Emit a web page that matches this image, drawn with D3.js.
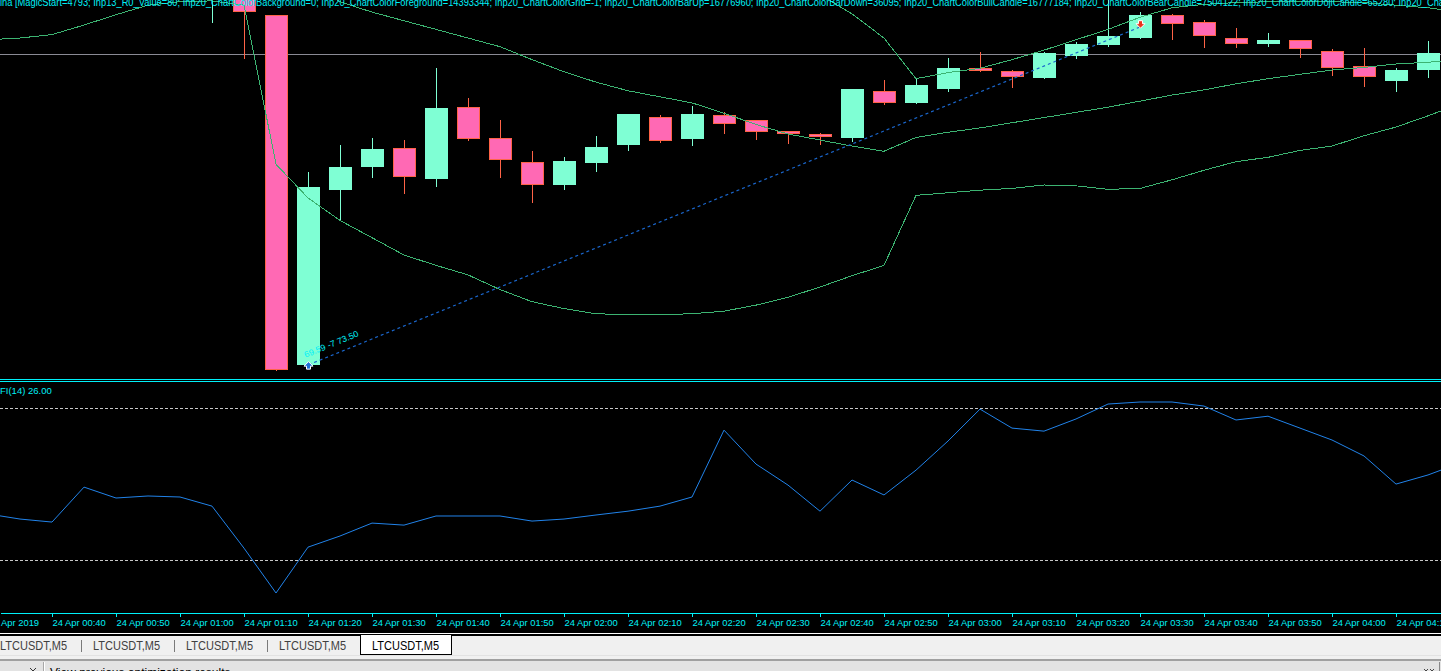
<!DOCTYPE html>
<html><head><meta charset="utf-8">
<script src="https://cdn.jsdelivr.net/npm/d3@7"></script>
<style>html,body{margin:0;padding:0;background:#000;overflow:hidden}</style>
</head><body><svg id="c" width="1441" height="671"></svg>
<script>
// ---------------- DATA ----------------
const candleTimes = ["01:05","01:10","01:15","01:20","01:25","01:30","01:35","01:40","01:45","01:50","01:55","02:00","02:05","02:10","02:15","02:20","02:25","02:30","02:35","02:40","02:45","02:50","02:55","03:00","03:05","03:10","03:15","03:20","03:25","03:30","03:35","03:40","03:45","03:50","03:55","04:00","04:05","04:10","04:15"];
const openPrices  = [73.86,73.90,73.64,69.59,71.61,71.88,72.10,71.74,72.57,72.21,71.94,71.67,71.92,72.13,72.46,72.20,72.48,72.42,72.29,72.26,72.21,72.76,72.62,72.78,73.02,72.99,72.91,73.16,73.29,73.37,73.64,73.56,73.37,73.30,73.35,73.22,73.05,72.87,73.00];
const highPrices  = [74.39,73.98,73.64,71.82,72.13,72.21,72.19,73.02,72.68,72.42,72.06,71.99,72.24,72.49,72.48,72.58,72.51,72.42,72.29,72.27,72.78,72.88,72.90,73.14,73.21,73.00,73.21,73.32,73.88,73.67,73.65,73.58,73.49,73.43,73.35,73.24,73.25,73.02,73.34];
const lowPrices   = [73.56,73.14,69.53,69.59,71.26,71.76,71.58,71.66,72.19,71.76,71.47,71.62,71.83,72.07,72.17,72.13,72.27,72.20,72.15,72.14,72.18,72.61,72.62,72.76,72.99,72.80,72.91,73.14,73.28,73.37,73.36,73.27,73.27,73.28,73.15,72.94,72.82,72.76,72.92];
const closePrices = [74.27,73.67,69.53,71.65,71.88,72.09,71.76,72.56,72.20,71.96,71.67,71.95,72.11,72.49,72.18,72.49,72.38,72.28,72.26,72.22,72.78,72.62,72.83,73.02,72.99,72.92,73.20,73.30,73.39,73.64,73.53,73.39,73.30,73.35,73.24,73.02,72.92,73.00,73.20];

const seriesTimes = ["00:30","00:35","00:40","00:45","00:50","00:55","01:00","01:05","01:10","01:15","01:20","01:25","01:30","01:35","01:40","01:45","01:50","01:55","02:00","02:05","02:10","02:15","02:20","02:25","02:30","02:35","02:40","02:45","02:50","02:55","03:00","03:05","03:10","03:15","03:20","03:25","03:30","03:35","03:40","03:45","03:50","03:55","04:00","04:05","04:10","04:15","04:20"];
const upperBand  = [75.90,75.88,75.86,75.84,75.82,75.80,75.78,75.76,75.74,77.20,76.95,76.72,76.50,76.30,76.10,75.90,75.70,75.50,75.30,75.10,74.95,74.80,74.65,74.52,74.40,74.16,73.87,73.65,73.37,72.90,72.97,73.02,73.12,73.23,73.35,73.47,73.61,73.72,73.76,73.78,73.79,73.79,73.79,73.78,73.75,73.72,73.67];
const middleBand = [75.30,75.28,75.26,75.24,75.22,75.20,75.15,75.05,74.90,74.55,73.98,73.79,73.67,73.57,73.47,73.37,73.27,73.12,72.98,72.86,72.76,72.69,72.62,72.50,72.37,72.26,72.19,72.12,72.06,72.22,72.28,72.33,72.39,72.45,72.51,72.57,72.64,72.71,72.77,72.84,72.90,72.95,73.00,73.03,73.07,73.09,73.12];
const lowerBand  = [73.35,73.37,73.41,73.52,73.64,73.75,73.79,73.80,73.75,71.91,71.52,71.26,71.06,70.86,70.74,70.63,70.46,70.32,70.24,70.18,70.17,70.17,70.18,70.21,70.28,70.37,70.49,70.62,70.74,71.55,71.58,71.61,71.63,71.67,71.66,71.62,71.63,71.73,71.84,71.94,71.99,72.07,72.12,72.24,72.34,72.47,72.61];
const fiValues   = [38.2,36.2,35.0,48.8,44.5,45.3,44.9,41.3,24.7,7.0,25.1,29.5,34.6,33.8,37.4,37.4,37.4,35.4,36.2,37.8,39.3,41.3,44.9,71.3,57.9,49.6,39.3,51.6,45.7,55.5,67.0,79.6,72.1,70.9,75.7,81.6,82.4,82.4,80.8,75.3,76.8,72.1,67.4,61.1,50.0,53.6,58.3];
const fiLevels   = [80, 20];

const axisTicks  = ["00:30","00:40","00:50","01:00","01:10","01:20","01:30","01:40","01:50","02:00","02:10","02:20","02:30","02:40","02:50","03:00","03:10","03:20","03:30","03:40","03:50","04:00","04:10"];
const axisLabels = ["24 Apr 2019","24 Apr 00:40","24 Apr 00:50","24 Apr 01:00","24 Apr 01:10","24 Apr 01:20","24 Apr 01:30","24 Apr 01:40","24 Apr 01:50","24 Apr 02:00","24 Apr 02:10","24 Apr 02:20","24 Apr 02:30","24 Apr 02:40","24 Apr 02:50","24 Apr 03:00","24 Apr 03:10","24 Apr 03:20","24 Apr 03:30","24 Apr 03:40","24 Apr 03:50","24 Apr 04:00","24 Apr 04:10"];

const trendTimes  = ["01:20","03:30"];
const trendPrices = [69.59, 73.50];
const trendLabel  = "69.59 -7 73.50";
const arrowTimes  = ["01:20","03:30"];
const arrowPrices = [69.58, 73.53];
const arrowKinds  = ["buy","sell"];
const hLinePrice  = 73.19;

const headerText = "ina [MagicStart=4793; Inp13_R0_Value=80; Inp20_ChartColorBackground=0; Inp20_ChartColorForeground=14393344; Inp20_ChartColorGrid=-1; Inp20_ChartColorBarUp=16776960; Inp20_ChartColorBarDown=36095; Inp20_ChartColorBullCandle=16777184; Inp20_ChartColorBearCandle=7504122; Inp20_ChartColorDojiCandle=65280; Inp20_Cha";
const fiLabel = "FI(14) 26.00";
const tabLabels = ["LTCUSDT,M5","LTCUSDT,M5","LTCUSDT,M5","LTCUSDT,M5","LTCUSDT,M5"];
const activeTab = 4;
const statusText = "View previous optimization results";

// ---------------- STYLE ----------------
const CYAN = "#00f0f8", BULL = "#7fffd4", BEAR = "#ff69b4", BEAR_EDGE = "#ff6347",
      BAND = "#3cb371", FI_COL = "#2183ea", TREND = "#1a66cc", FONT = "Liberation Sans, Arial, sans-serif";
const W = 1441, H = 671;

const T = s => { const [h,m] = s.split(":").map(Number); return new Date(2019,3,24,h,m); };

const svg = d3.select("#c");
const x = d3.scaleTime()
  .domain([new Date(2019,3,24,0,31,52,500), new Date(2019,3,24,4,17,1,875)])
  .range([0, W]);
const y = d3.scaleLinear().domain([69.437, 73.81]).range([378, 0]);
const yFi = d3.scaleLinear().domain([-0.5, 90.3]).range([612, 382]);

svg.append("rect").attr("width", W).attr("height", 633).attr("fill", "#000");

const defs = svg.append("defs");
defs.append("clipPath").attr("id","clipMain").append("rect").attr("x",0).attr("y",0).attr("width",W).attr("height",379);
defs.append("clipPath").attr("id","clipFi").append("rect").attr("x",0).attr("y",382).attr("width",W).attr("height",231);

// ---------------- MAIN PANEL ----------------
const gm = svg.append("g").attr("clip-path","url(#clipMain)");

gm.append("line").attr("x1",0).attr("x2",W)
  .attr("y1", Math.round(y(hLinePrice))+0.5).attr("y2", Math.round(y(hLinePrice))+0.5)
  .attr("stroke","#8a8a94").attr("stroke-width",1).attr("shape-rendering","crispEdges");

const candles = candleTimes.map((t,i)=>({t:T(t), o:openPrices[i], h:highPrices[i], l:lowPrices[i], c:closePrices[i]}));
const cg = gm.append("g").attr("shape-rendering","crispEdges");
candles.forEach(d=>{
  const cx = Math.round(x(d.t));
  const bull = d.c >= d.o;
  const top = Math.round(y(Math.max(d.o,d.c))), bot = Math.round(y(Math.min(d.o,d.c)));
  const h = Math.max(1, bot-top);
  cg.append("line").attr("x1",cx+0.5).attr("x2",cx+0.5)
    .attr("y1",Math.round(y(d.h))).attr("y2",Math.round(y(d.l))+1)
    .attr("stroke", bull ? BULL : BEAR_EDGE).attr("stroke-width",1);
  if (bull) {
    cg.append("rect").attr("x",cx-11).attr("y",top).attr("width",23).attr("height",h).attr("fill",BULL);
  } else {
    cg.append("rect").attr("x",cx-10.5).attr("y",top+0.5).attr("width",22).attr("height",Math.max(0,h-1))
      .attr("fill",BEAR).attr("stroke",BEAR_EDGE).attr("stroke-width",1);
  }
});

const bandLine = d3.line().x((d,i)=>x(T(seriesTimes[i]))).y(d=>y(d));
[upperBand, middleBand, lowerBand].forEach(arr=>{
  gm.append("path").datum(arr).attr("d", bandLine).attr("fill","none")
    .attr("stroke",BAND).attr("stroke-width",1).attr("shape-rendering","crispEdges");
});

// trend line
const tp = trendTimes.map((t,i)=>[x(T(t))+0.5, y(trendPrices[i])]);
gm.append("line").attr("x1",tp[0][0]).attr("y1",tp[0][1]).attr("x2",tp[1][0]).attr("y2",tp[1][1])
  .attr("stroke",TREND).attr("stroke-width",1.2).attr("stroke-dasharray","3,3");
const ang = Math.atan2(tp[1][1]-tp[0][1], tp[1][0]-tp[0][0]) * 180/Math.PI;
gm.append("text").attr("transform",`translate(${tp[0][0]-3},${tp[0][1]-7}) rotate(${ang})`)
  .attr("fill",CYAN).attr("font-family",FONT).attr("font-size",8.5)
  .attr("textLength",58).attr("lengthAdjust","spacingAndGlyphs").text(trendLabel);

// arrows
arrowTimes.forEach((t,i)=>{
  const ax = Math.round(x(T(t)))+0.5, ay = y(arrowPrices[i]);
  const s = arrowKinds[i]==="buy" ? 1 : -1;
  const pts = [[0,-4],[4.5,0.5],[2,0.5],[2,3.5],[-2,3.5],[-2,0.5],[-4.5,0.5]].map(p=>[ax+p[0], ay+s*p[1]]);
  gm.append("path").attr("d","M"+pts.map(p=>p.join(",")).join("L")+"Z")
    .attr("fill", arrowKinds[i]==="buy" ? "#1b6fd6" : "#e8341c").attr("stroke","#fff").attr("stroke-width",1);
});

// header text (cut at the top edge, as in the reference)
svg.append("text").attr("x",0).attr("y",6).attr("fill",CYAN).attr("font-family",FONT).attr("font-size",10.5)
  .attr("textLength",1444).attr("lengthAdjust","spacingAndGlyphs").text(headerText);

// separators
svg.append("line").attr("x1",0).attr("x2",W).attr("y1",379.5).attr("y2",379.5).attr("stroke",CYAN);
svg.append("line").attr("x1",0).attr("x2",W).attr("y1",381.5).attr("y2",381.5).attr("stroke",CYAN);

// ---------------- INDICATOR PANEL ----------------
const gf = svg.append("g").attr("clip-path","url(#clipFi)");
fiLevels.forEach(v=>{
  const yy = Math.round(yFi(v))+0.5;
  gf.append("line").attr("x1",0).attr("x2",W).attr("y1",yy).attr("y2",yy)
    .attr("stroke","#c8c8c8").attr("stroke-dasharray","3,2").attr("shape-rendering","crispEdges");
});
gf.append("path").datum(fiValues)
  .attr("d", d3.line().x((d,i)=>x(T(seriesTimes[i]))).y(d=>yFi(d)))
  .attr("fill","none").attr("stroke",FI_COL).attr("stroke-width",1);
svg.append("text").attr("x",0).attr("y",394).attr("fill",CYAN).attr("font-family",FONT).attr("font-size",9.5).text(fiLabel);

// ---------------- TIME AXIS ----------------
const axis = d3.axisBottom(x).tickValues(axisTicks.map(T)).tickFormat((d,i)=>axisLabels[i])
  .tickSize(4).tickSizeOuter(0);
const ag = svg.append("g").attr("transform","translate(0,613)").call(axis)
  .attr("font-family",FONT).attr("font-size",9.4).attr("shape-rendering","crispEdges");
ag.select(".domain").attr("stroke",CYAN);
ag.selectAll(".tick line").attr("stroke",CYAN);
ag.selectAll(".tick text").attr("fill",CYAN).attr("text-anchor","start").attr("x",0).attr("y",13).attr("dy",null);

// ---------------- TABS / STATUS ----------------
svg.append("rect").attr("x",0).attr("y",633).attr("width",W).attr("height",1).attr("fill","#fff");
svg.append("rect").attr("x",0).attr("y",634).attr("width",W).attr("height",2).attr("fill","#000");
svg.append("rect").attr("x",0).attr("y",636).attr("width",W).attr("height",23).attr("fill","#f0f0f0");
svg.append("rect").attr("x",0).attr("y",655).attr("width",W).attr("height",1).attr("fill","#e2e2e2");
svg.append("rect").attr("x",0).attr("y",659).attr("width",W).attr("height",2).attr("fill","#a0a0a0");
svg.append("rect").attr("x",0).attr("y",661).attr("width",W).attr("height",10).attr("fill","#e3e3e3");

const tabStart = -12, tabW = 93;
const tg = svg.append("g");
tabLabels.forEach((lab,i)=>{
  const left = tabStart + tabW*i;
  if (i===activeTab) {
    tg.append("rect").attr("x",left+0.5).attr("y",634.5).attr("width",tabW-2).attr("height",20)
      .attr("fill","#fff").attr("stroke","#000").attr("stroke-width",1.2).attr("shape-rendering","crispEdges");
  } else if (i+1 !== activeTab) {
    tg.append("line").attr("x1",left+tabW+0.5).attr("x2",left+tabW+0.5).attr("y1",640).attr("y2",652)
      .attr("stroke","#7a7a7a").attr("shape-rendering","crispEdges");
  }
  tg.append("text").attr("x",left+45.5).attr("y",650).attr("text-anchor","middle")
    .attr("font-family",FONT).attr("font-size",12).attr("textLength",67).attr("lengthAdjust","spacingAndGlyphs")
    .attr("fill", i===activeTab ? "#000" : "#404040").text(lab);
});

svg.append("line").attr("x1",43.5).attr("x2",43.5).attr("y1",662).attr("y2",671).attr("stroke","#a8a8a8");
svg.append("line").attr("x1",44.5).attr("x2",44.5).attr("y1",662).attr("y2",671).attr("stroke","#fff");
svg.append("path").attr("d","M30,668 L33,671 L36,668").attr("fill","none").attr("stroke","#333");
svg.append("text").attr("x",50).attr("y",677).attr("font-family",FONT).attr("font-size",12).attr("fill","#000").text(statusText);
svg.append("line").attr("x1",1439.5).attr("x2",1439.5).attr("y1",662).attr("y2",671).attr("stroke","#888");
svg.append("path").attr("d","M1424,669 L1426,671 L1428,669 M1430,669 L1432,671 L1434,669").attr("fill","none").attr("stroke","#444");
</script></body></html>
